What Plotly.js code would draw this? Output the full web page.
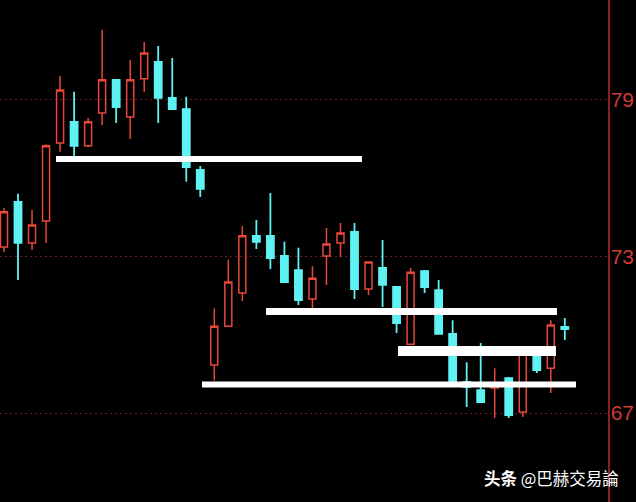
<!DOCTYPE html>
<html>
<head>
<meta charset="utf-8">
<script src="https://cdn.plot.ly/plotly-3.0.1.min.js"></script>
<style>
  html, body { margin: 0; padding: 0; background: #000; }
  #chart { width: 636px; height: 502px; }
</style>
</head>
<body>
<div id="chart"></div>
<script>
// Candle index (bar number)
const bars = [0,1,2,3,4,5,6,7,8,9,10,11,12,13,14,15,16,17,18,19,20,21,22,23,24,25,26,27,28,29,30,31,32,33,34,35,36,37,38,39,40];
const openP  = [73.36,75.09,73.52,74.36,77.35,78.16,77.24,78.50,79.77,78.35,79.81,80.46,79.08,78.65,76.32,68.84,70.33,71.60,73.79,73.79,73.02,72.48,71.37,73.02,73.52,73.94,71.75,72.56,71.83,69.64,72.44,71.71,70.03,68.19,67.88,67.96,68.34,67.04,69.34,68.72,70.30];
const highP  = [74.86,75.40,74.78,77.30,79.92,79.31,78.31,81.68,79.80,80.53,81.22,81.07,80.61,79.12,76.47,71.02,72.87,74.17,74.40,75.43,73.56,73.33,72.63,74.09,74.28,74.28,72.79,73.63,71.87,72.56,72.48,72.10,70.56,68.95,69.68,68.72,68.38,69.34,69.40,70.56,70.64];
const lowP   = [73.17,72.10,73.25,73.52,77.01,76.85,77.20,78.04,78.12,77.50,79.31,78.12,78.62,75.86,75.28,68.26,70.30,71.29,73.29,72.52,71.98,71.14,71.02,71.91,72.98,71.37,71.52,71.06,70.07,69.60,71.60,70.00,68.15,67.23,67.38,66.81,66.81,66.85,68.53,67.77,69.80];
const closeP = [74.71,73.52,74.21,77.24,79.38,77.24,78.16,79.77,78.73,79.77,80.80,79.08,78.65,76.43,75.59,70.33,72.02,73.79,73.56,72.94,72.02,71.33,72.17,73.48,73.90,71.75,72.79,71.91,70.45,72.40,71.83,70.03,68.19,68.00,67.42,68.15,66.92,69.34,68.65,70.37,70.22];

// Hand-drawn horizontal levels (price, from bar, to bar)
const levelPrice = [76.74, 70.89, 69.38, 68.09];
const levelFrom  = [3.71, 18.69, 28.10, 14.12];
const levelTo    = [25.53, 39.44, 39.37, 40.80];

// Axis tick labels
const tickVals = [67, 73, 79];
const tickText = ['67', '73', '79'];

const watermark = '<b>头条</b> @巴赫交易論';

const RED = '#e8473a';
const CYAN = '#5ef2f2';
const levelWidths = [6, 7, 10, 6];

const shapes = levelPrice.map((p, i) => ({
  type: 'line', xref: 'x', yref: 'y',
  x0: levelFrom[i], x1: levelTo[i], y0: p, y1: p,
  line: { color: '#ffffff', width: levelWidths[i] },
  layer: 'above'
}));

const trace = {
  type: 'candlestick',
  x: bars, open: openP, high: highP, low: lowP, close: closeP,
  increasing: { line: { color: RED, width: 1.5 }, fillcolor: 'rgba(0,0,0,0)' },
  decreasing: { line: { color: CYAN, width: 1.8 }, fillcolor: CYAN },
  whiskerwidth: 0,
  hoverinfo: 'skip',
  showlegend: false
};

const layout = {
  width: 636, height: 502,
  margin: { l: 0, r: 28, t: 0, b: 0, pad: 0 },
  paper_bgcolor: '#000', plot_bgcolor: '#000',
  boxgap: 0.5, boxgroupgap: 0,
  showlegend: false,
  xaxis: {
    range: [-0.285, 43.08], visible: false, showgrid: false, zeroline: false,
    rangeslider: { visible: false }, fixedrange: true
  },
  yaxis: {
    range: [63.59, 82.83], side: 'right',
    tickvals: tickVals, ticktext: tickText,
    tickfont: { family: 'Liberation Sans, Arial, sans-serif', size: 21, color: '#cf3b34' },
    ticks: '', ticklabelstandoff: -3,
    showgrid: true, gridcolor: '#6a2020', gridwidth: 1, griddash: '2px,3px',
    showline: true, linecolor: '#8a2020', linewidth: 1.5,
    zeroline: false, fixedrange: true
  },
  shapes: shapes,
  annotations: [{
    xref: 'paper', yref: 'paper', x: 1.021, y: 0.048,
    xanchor: 'right', yanchor: 'middle', showarrow: false,
    text: watermark,
    font: { family: 'Noto Sans CJK SC, sans-serif', size: 16.5, color: '#ffffff' }
  }]
};

Plotly.newPlot('chart', [trace], layout, { staticPlot: true, displayModeBar: false });
</script>
</body>
</html>
